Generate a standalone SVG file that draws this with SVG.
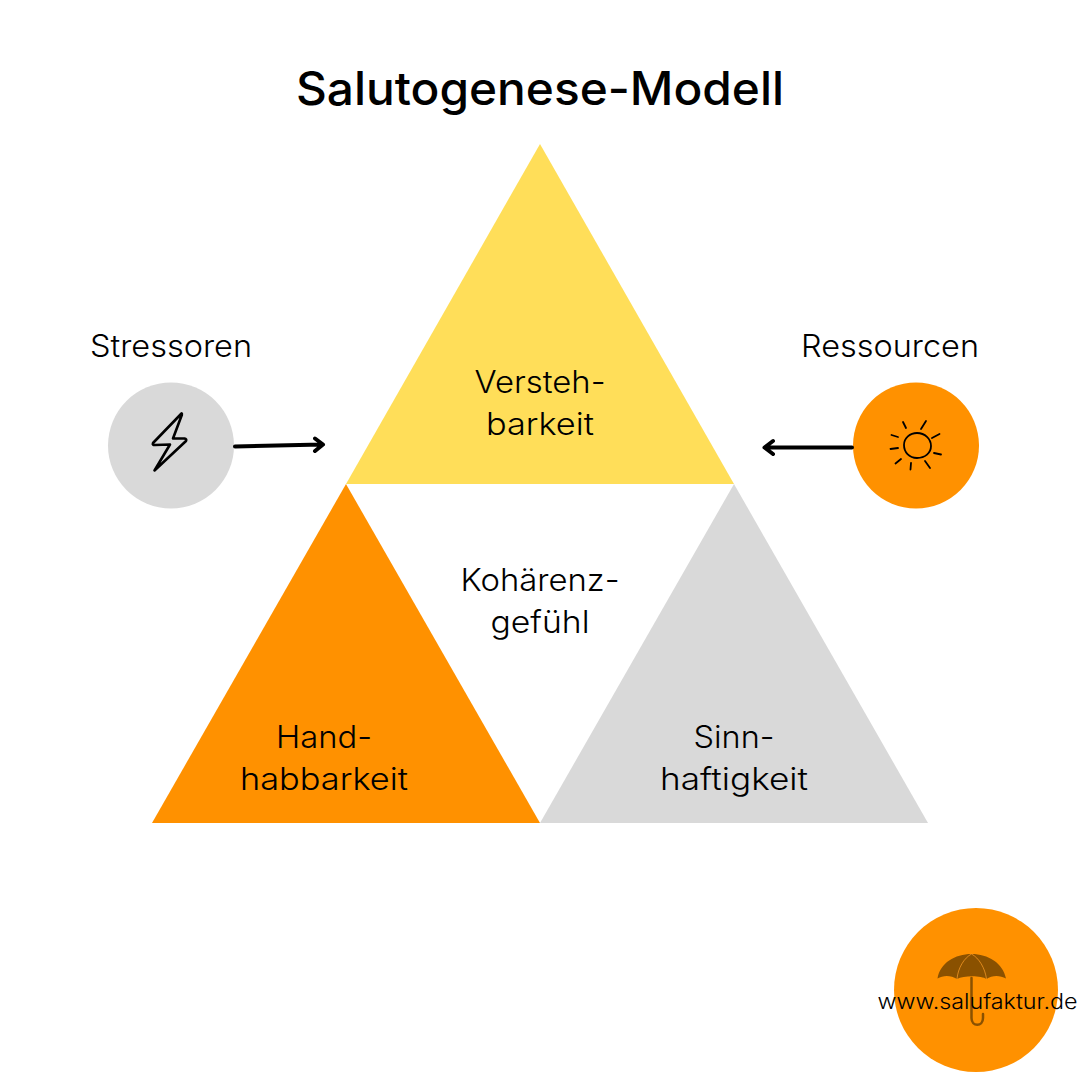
<svg xmlns="http://www.w3.org/2000/svg" width="1080" height="1080" viewBox="0 0 1080 1080">
<defs>
<style>
text{font-family:"Inter","Noto Sans","Liberation Sans",sans-serif;fill:#000;text-anchor:middle}
.l{font-size:31px;font-weight:300}
.t{font-size:46px;font-weight:500}
.u{font-size:21px;font-weight:300}
.a{fill:none;stroke:#000;stroke-width:4px;stroke-linecap:round;stroke-linejoin:round}
.i{fill:none;stroke:#000;stroke-linecap:round;stroke-linejoin:round}
</style>
</defs>
<rect width="1080" height="1080" fill="#fff"/>
<text id="title" class="t" x="540" y="105" textLength="488" lengthAdjust="spacingAndGlyphs">Salutogenese-Modell</text>
<g id="versteh">
<polygon points="540,144 734,484 346,484" fill="#ffde59"/>
<text class="l" x="540" y="393" textLength="131" lengthAdjust="spacingAndGlyphs">Versteh-</text>
<text class="l" x="540" y="435" textLength="108" lengthAdjust="spacingAndGlyphs">barkeit</text>
</g>
<g id="hand">
<polygon points="346,484 540,823 152,823" fill="#ff9100"/>
<text class="l" x="324" y="748" textLength="96" lengthAdjust="spacingAndGlyphs">Hand-</text>
<text class="l" x="324" y="790" textLength="168" lengthAdjust="spacingAndGlyphs">habbarkeit</text>
</g>
<g id="sinn">
<polygon points="734,484 928,823 540,823" fill="#d9d9d9"/>
<text class="l" x="734" y="748" textLength="81" lengthAdjust="spacingAndGlyphs">Sinn-</text>
<text class="l" x="734" y="790" textLength="148" lengthAdjust="spacingAndGlyphs">haftigkeit</text>
</g>
<g id="kohaerenz">
<text class="l" x="540" y="591" textLength="159" lengthAdjust="spacingAndGlyphs">Kohärenz-</text>
<text class="l" x="540" y="633" textLength="99" lengthAdjust="spacingAndGlyphs">gefühl</text>
</g>
<g id="stressoren">
<text class="l" x="171" y="357" textLength="162" lengthAdjust="spacingAndGlyphs">Stressoren</text>
<circle cx="171" cy="445.500" r="63" fill="#d9d9d9"/>
<path class="i" stroke-width="2.600" d="M181.500,413.500 L153,443 Q152,445 155,445 L170,444.500 L154.500,470.500 L186,441 Q187,439 184.500,438.500 L173,438.500 L181.800,415 Q182,413 181.500,413.500Z"/>
</g>
<g id="ressourcen">
<text class="l" x="890" y="357" textLength="178" lengthAdjust="spacingAndGlyphs">Ressourcen</text>
<circle cx="916" cy="445.500" r="63" fill="#ff9100"/>
<g class="i" stroke-width="1.800">
<path d="M917,433 C925,433 931,439 931,446 C931,453 925,458 917,458 C909,458 904,452 904,445 C904,438 910,433 917,433Z"/>
<path d="M906,428 L903,422 M921,429 L926,421 M932,438 L939.500,434 M934,453 L941,454.500 M925,461 L930,468 M911,463 L910.500,469.500 M901,459 L895.500,463.500 M898,448 L890.500,449 M898,437 L891.500,435"/>
</g>
</g>
<g id="logo">
<circle cx="976" cy="990" r="82" fill="#ff9100"/>
<path d="M937.500,978.500 C940,963 955,954 971.500,954 C988,954 1003,963 1006,978.500 C1000,975 992,975 986.500,979 C982,975.500 964,975 957,979 C951,975 943,975 937.500,978.500Z" fill="#8a5100"/>
<path d="M957,979 C958,968 964,958 971.500,954 C979,958 985,968 986.500,979" fill="none" stroke="#ff9f2a" stroke-width="0.700"/>
<path d="M971.500,978 L971.500,1018 C971.500,1027 983,1027 983,1018 L983,1014" fill="none" stroke="#8a5100" stroke-width="2.500" stroke-linecap="round"/>
<text class="u" x="977.500" y="1009" textLength="200" lengthAdjust="spacingAndGlyphs">www.salufaktur.de</text>
</g>
<g id="connectors">
<path class="a" d="M235,446.500 L322,444.500 M315,438.500 L323,444.500 L315,451"/>
<path class="a" d="M852,447.500 L765,447.500 M773,441 L764.500,447.500 L773,454"/>
</g>
</svg>
